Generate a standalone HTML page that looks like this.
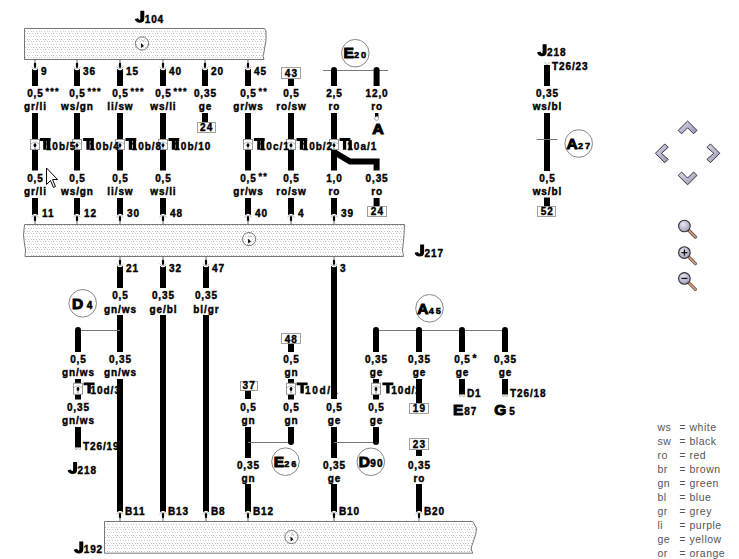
<!DOCTYPE html>
<html><head><meta charset="utf-8"><style>
html,body{margin:0;padding:0;background:#fff;width:739px;height:559px;overflow:hidden}
svg{display:block;font-family:"Liberation Sans",sans-serif}
</style></head><body>
<svg width="739" height="559" viewBox="0 0 739 559">
<defs>
<pattern id="dots" x="4" y="-1" width="8" height="16" patternUnits="userSpaceOnUse">
<rect x="0" y="0" width="1" height="1" fill="#c8c8c8"/><rect x="3" y="0" width="1" height="1" fill="#c8c8c8"/><rect x="5" y="0" width="1" height="1" fill="#c8c8c8"/>
<rect x="1" y="2" width="1" height="1" fill="#c8c8c8"/><rect x="4" y="2" width="1" height="1" fill="#c8c8c8"/><rect x="7" y="2" width="1" height="1" fill="#c8c8c8"/>
<rect x="0" y="5" width="1" height="1" fill="#c8c8c8"/><rect x="3" y="5" width="1" height="1" fill="#c8c8c8"/><rect x="5" y="5" width="1" height="1" fill="#c8c8c8"/>
<rect x="1" y="8" width="1" height="1" fill="#c8c8c8"/><rect x="4" y="8" width="1" height="1" fill="#c8c8c8"/><rect x="7" y="8" width="1" height="1" fill="#c8c8c8"/>
<rect x="0" y="10" width="1" height="1" fill="#c8c8c8"/><rect x="3" y="10" width="1" height="1" fill="#c8c8c8"/><rect x="5" y="10" width="1" height="1" fill="#c8c8c8"/>
<rect x="1" y="13" width="1" height="1" fill="#c8c8c8"/><rect x="4" y="13" width="1" height="1" fill="#c8c8c8"/><rect x="7" y="13" width="1" height="1" fill="#c8c8c8"/>
</pattern>
<linearGradient id="chev" x1="0" y1="0" x2="1" y2="1"><stop offset="0" stop-color="#d8d8ec"/><stop offset="1" stop-color="#9898b8"/></linearGradient>
<radialGradient id="lens" cx="0.4" cy="0.35" r="0.7"><stop offset="0" stop-color="#e8e8f4"/><stop offset="1" stop-color="#9a9ab8"/></radialGradient>
</defs>

<path d="M24.5,28.5 H264.5 L266,31 L266,40 L265,46 L264,52 L263,56 L264,59.5 H24.5 Z" fill="url(#dots)" stroke="#777" stroke-width="1"/>
<circle cx="142" cy="43.5" r="6.6" fill="none" stroke="#666" stroke-width="0.9"/>
<path d="M140.90,43.10 L143.90,45.80 L141.20,48.00 Z" fill="#000"/>
<path d="M141.40,40.30 L144.50,41.30" stroke="#999" stroke-width="0.7"/>
<path d="M140.30,10.80 L144.30,10.80 L144.30,18.80 Q144.30,22.80 139.70,22.80 Q135.90,22.80 134.70,19.10 L138.10,18.20 Q138.70,19.90 139.70,19.90 Q140.30,19.90 140.30,18.80 Z" fill="#000"/>
<text x="144.70" y="22.80" font-weight="bold" fill="#000" font-size="10" letter-spacing="0.9" stroke="#000" stroke-width="0.4">104</text>
<path d="M24.5,224.5 H404.5 L404,235 L403.5,241 L402.5,250 L403.5,256.5 H25 L25.5,250 L24.5,244 L23.5,235 Z" fill="url(#dots)" stroke="#777" stroke-width="1"/>
<circle cx="249.1" cy="239.1" r="6.6" fill="none" stroke="#666" stroke-width="0.9"/>
<path d="M248.00,238.70 L251.00,241.40 L248.30,243.60 Z" fill="#000"/>
<path d="M248.50,235.90 L251.60,236.90" stroke="#999" stroke-width="0.7"/>
<path d="M420.10,244.50 L424.10,244.50 L424.10,252.50 Q424.10,256.50 419.50,256.50 Q415.70,256.50 414.50,252.80 L417.90,251.90 Q418.50,253.60 419.50,253.60 Q420.10,253.60 420.10,252.50 Z" fill="#000"/>
<text x="424.50" y="256.50" font-weight="bold" fill="#000" font-size="10" letter-spacing="0.9" stroke="#000" stroke-width="0.4">217</text>
<path d="M104.5,521.5 H472.8 L476.4,528 L476,533 L473.6,541 L471.4,547 L471.4,550 L472.8,553.2 H104.5 Z" fill="url(#dots)" stroke="#777" stroke-width="1"/>
<circle cx="291.5" cy="537" r="6.6" fill="none" stroke="#666" stroke-width="0.9"/>
<path d="M290.40,536.60 L293.40,539.30 L290.70,541.50 Z" fill="#000"/>
<path d="M290.90,533.80 L294.00,534.80" stroke="#999" stroke-width="0.7"/>
<path d="M79.30,541.40 L83.30,541.40 L83.30,549.40 Q83.30,553.40 78.70,553.40 Q74.90,553.40 73.70,549.70 L77.10,548.80 Q77.70,550.50 78.70,550.50 Q79.30,550.50 79.30,549.40 Z" fill="#000"/>
<text x="83.70" y="553.40" font-weight="bold" fill="#000" font-size="10" letter-spacing="0.9" stroke="#000" stroke-width="0.4">192</text>
<line x1="35" y1="59.5" x2="35" y2="63.5" stroke="#666" stroke-width="1"/>
<rect x="33.90" y="62.70" width="2.2" height="5.2" rx="1.1" fill="#000"/>
<path d="M31.40,66.70 Q35.00,70.70 38.60,66.70" stroke="#aaa" stroke-width="0.8" fill="none"/>
<path d="M32.00,86.00 V68.70 Q35.00,71.90 38.00,68.70 V86.00 Z" fill="#000"/>
<text x="41.00" y="75.00" text-anchor="start" font-size="10" letter-spacing="0.9" font-weight="bold" fill="#000" stroke="#000" stroke-width="0.4" >9</text>
<text x="35.45" y="97.00" text-anchor="middle" font-size="10" letter-spacing="0.9" font-weight="bold" fill="#000" stroke="#000" stroke-width="0.4" >0,5</text>
<text x="45.50" y="94.00" text-anchor="start" font-size="9" letter-spacing="1.3" font-weight="bold" fill="#000" stroke="#000" stroke-width="0.4" >***</text>
<text x="35.45" y="110.00" text-anchor="middle" font-size="10" letter-spacing="0.9" font-weight="bold" fill="#000" stroke="#000" stroke-width="0.4" >gr/li</text>
<rect x="32.00" y="113.00" width="6" height="26.50" fill="#000"/>
<rect x="32.00" y="149.50" width="6" height="21.00" fill="#000"/>
<text x="35.45" y="182.00" text-anchor="middle" font-size="10" letter-spacing="0.9" font-weight="bold" fill="#000" stroke="#000" stroke-width="0.4" >0,5</text>
<text x="35.45" y="195.00" text-anchor="middle" font-size="10" letter-spacing="0.9" font-weight="bold" fill="#000" stroke="#000" stroke-width="0.4" >gr/li</text>
<path d="M32.00,198.00 V215.30 Q35.00,212.10 38.00,215.30 V198.00 Z" fill="#000"/>
<path d="M31.40,217.30 Q35.00,213.30 38.60,217.30" stroke="#aaa" stroke-width="0.8" fill="none"/>
<rect x="33.90" y="216.10" width="2.2" height="5.2" rx="1.1" fill="#000"/>
<line x1="35" y1="220.5" x2="35" y2="224.5" stroke="#666" stroke-width="1"/>
<text x="42.00" y="217.00" text-anchor="start" font-size="10" letter-spacing="0.9" font-weight="bold" fill="#000" stroke="#000" stroke-width="0.4" >11</text>
<line x1="77" y1="59.5" x2="77" y2="63.5" stroke="#666" stroke-width="1"/>
<rect x="75.90" y="62.70" width="2.2" height="5.2" rx="1.1" fill="#000"/>
<path d="M73.40,66.70 Q77.00,70.70 80.60,66.70" stroke="#aaa" stroke-width="0.8" fill="none"/>
<path d="M74.00,86.00 V68.70 Q77.00,71.90 80.00,68.70 V86.00 Z" fill="#000"/>
<text x="83.00" y="75.00" text-anchor="start" font-size="10" letter-spacing="0.9" font-weight="bold" fill="#000" stroke="#000" stroke-width="0.4" >36</text>
<text x="77.45" y="97.00" text-anchor="middle" font-size="10" letter-spacing="0.9" font-weight="bold" fill="#000" stroke="#000" stroke-width="0.4" >0,5</text>
<text x="87.50" y="94.00" text-anchor="start" font-size="9" letter-spacing="1.3" font-weight="bold" fill="#000" stroke="#000" stroke-width="0.4" >***</text>
<text x="77.45" y="110.00" text-anchor="middle" font-size="10" letter-spacing="0.9" font-weight="bold" fill="#000" stroke="#000" stroke-width="0.4" >ws/gn</text>
<rect x="74.00" y="113.00" width="6" height="26.50" fill="#000"/>
<rect x="74.00" y="149.50" width="6" height="21.00" fill="#000"/>
<text x="77.45" y="182.00" text-anchor="middle" font-size="10" letter-spacing="0.9" font-weight="bold" fill="#000" stroke="#000" stroke-width="0.4" >0,5</text>
<text x="77.45" y="195.00" text-anchor="middle" font-size="10" letter-spacing="0.9" font-weight="bold" fill="#000" stroke="#000" stroke-width="0.4" >ws/gn</text>
<path d="M74.00,198.00 V215.30 Q77.00,212.10 80.00,215.30 V198.00 Z" fill="#000"/>
<path d="M73.40,217.30 Q77.00,213.30 80.60,217.30" stroke="#aaa" stroke-width="0.8" fill="none"/>
<rect x="75.90" y="216.10" width="2.2" height="5.2" rx="1.1" fill="#000"/>
<line x1="77" y1="220.5" x2="77" y2="224.5" stroke="#666" stroke-width="1"/>
<text x="84.00" y="217.00" text-anchor="start" font-size="10" letter-spacing="0.9" font-weight="bold" fill="#000" stroke="#000" stroke-width="0.4" >12</text>
<line x1="120" y1="59.5" x2="120" y2="63.5" stroke="#666" stroke-width="1"/>
<rect x="118.90" y="62.70" width="2.2" height="5.2" rx="1.1" fill="#000"/>
<path d="M116.40,66.70 Q120.00,70.70 123.60,66.70" stroke="#aaa" stroke-width="0.8" fill="none"/>
<path d="M117.00,86.00 V68.70 Q120.00,71.90 123.00,68.70 V86.00 Z" fill="#000"/>
<text x="126.00" y="75.00" text-anchor="start" font-size="10" letter-spacing="0.9" font-weight="bold" fill="#000" stroke="#000" stroke-width="0.4" >15</text>
<text x="120.45" y="97.00" text-anchor="middle" font-size="10" letter-spacing="0.9" font-weight="bold" fill="#000" stroke="#000" stroke-width="0.4" >0,5</text>
<text x="130.50" y="94.00" text-anchor="start" font-size="9" letter-spacing="1.3" font-weight="bold" fill="#000" stroke="#000" stroke-width="0.4" >***</text>
<text x="120.45" y="110.00" text-anchor="middle" font-size="10" letter-spacing="0.9" font-weight="bold" fill="#000" stroke="#000" stroke-width="0.4" >li/sw</text>
<rect x="117.00" y="113.00" width="6" height="26.50" fill="#000"/>
<rect x="117.00" y="149.50" width="6" height="21.00" fill="#000"/>
<text x="120.45" y="182.00" text-anchor="middle" font-size="10" letter-spacing="0.9" font-weight="bold" fill="#000" stroke="#000" stroke-width="0.4" >0,5</text>
<text x="120.45" y="195.00" text-anchor="middle" font-size="10" letter-spacing="0.9" font-weight="bold" fill="#000" stroke="#000" stroke-width="0.4" >li/sw</text>
<path d="M117.00,198.00 V215.30 Q120.00,212.10 123.00,215.30 V198.00 Z" fill="#000"/>
<path d="M116.40,217.30 Q120.00,213.30 123.60,217.30" stroke="#aaa" stroke-width="0.8" fill="none"/>
<rect x="118.90" y="216.10" width="2.2" height="5.2" rx="1.1" fill="#000"/>
<line x1="120" y1="220.5" x2="120" y2="224.5" stroke="#666" stroke-width="1"/>
<text x="127.00" y="217.00" text-anchor="start" font-size="10" letter-spacing="0.9" font-weight="bold" fill="#000" stroke="#000" stroke-width="0.4" >30</text>
<line x1="163" y1="59.5" x2="163" y2="63.5" stroke="#666" stroke-width="1"/>
<rect x="161.90" y="62.70" width="2.2" height="5.2" rx="1.1" fill="#000"/>
<path d="M159.40,66.70 Q163.00,70.70 166.60,66.70" stroke="#aaa" stroke-width="0.8" fill="none"/>
<path d="M160.00,86.00 V68.70 Q163.00,71.90 166.00,68.70 V86.00 Z" fill="#000"/>
<text x="169.00" y="75.00" text-anchor="start" font-size="10" letter-spacing="0.9" font-weight="bold" fill="#000" stroke="#000" stroke-width="0.4" >40</text>
<text x="163.45" y="97.00" text-anchor="middle" font-size="10" letter-spacing="0.9" font-weight="bold" fill="#000" stroke="#000" stroke-width="0.4" >0,5</text>
<text x="173.50" y="94.00" text-anchor="start" font-size="9" letter-spacing="1.3" font-weight="bold" fill="#000" stroke="#000" stroke-width="0.4" >***</text>
<text x="163.45" y="110.00" text-anchor="middle" font-size="10" letter-spacing="0.9" font-weight="bold" fill="#000" stroke="#000" stroke-width="0.4" >ws/li</text>
<rect x="160.00" y="113.00" width="6" height="26.50" fill="#000"/>
<rect x="160.00" y="149.50" width="6" height="21.00" fill="#000"/>
<text x="163.45" y="182.00" text-anchor="middle" font-size="10" letter-spacing="0.9" font-weight="bold" fill="#000" stroke="#000" stroke-width="0.4" >0,5</text>
<text x="163.45" y="195.00" text-anchor="middle" font-size="10" letter-spacing="0.9" font-weight="bold" fill="#000" stroke="#000" stroke-width="0.4" >ws/li</text>
<path d="M160.00,198.00 V215.30 Q163.00,212.10 166.00,215.30 V198.00 Z" fill="#000"/>
<path d="M159.40,217.30 Q163.00,213.30 166.60,217.30" stroke="#aaa" stroke-width="0.8" fill="none"/>
<rect x="161.90" y="216.10" width="2.2" height="5.2" rx="1.1" fill="#000"/>
<line x1="163" y1="220.5" x2="163" y2="224.5" stroke="#666" stroke-width="1"/>
<text x="170.00" y="217.00" text-anchor="start" font-size="10" letter-spacing="0.9" font-weight="bold" fill="#000" stroke="#000" stroke-width="0.4" >48</text>
<line x1="205" y1="59.5" x2="205" y2="63.5" stroke="#666" stroke-width="1"/>
<rect x="203.90" y="62.70" width="2.2" height="5.2" rx="1.1" fill="#000"/>
<path d="M201.40,66.70 Q205.00,70.70 208.60,66.70" stroke="#aaa" stroke-width="0.8" fill="none"/>
<path d="M202.00,86.00 V68.70 Q205.00,71.90 208.00,68.70 V86.00 Z" fill="#000"/>
<text x="211.00" y="75.00" text-anchor="start" font-size="10" letter-spacing="0.9" font-weight="bold" fill="#000" stroke="#000" stroke-width="0.4" >20</text>
<text x="205.45" y="97.00" text-anchor="middle" font-size="10" letter-spacing="0.9" font-weight="bold" fill="#000" stroke="#000" stroke-width="0.4" >0,35</text>
<text x="205.45" y="110.00" text-anchor="middle" font-size="10" letter-spacing="0.9" font-weight="bold" fill="#000" stroke="#000" stroke-width="0.4" >ge</text>
<rect x="202.00" y="113.00" width="6" height="9.00" fill="#000"/>
<line x1="248" y1="59.5" x2="248" y2="63.5" stroke="#666" stroke-width="1"/>
<rect x="246.90" y="62.70" width="2.2" height="5.2" rx="1.1" fill="#000"/>
<path d="M244.40,66.70 Q248.00,70.70 251.60,66.70" stroke="#aaa" stroke-width="0.8" fill="none"/>
<path d="M245.00,86.00 V68.70 Q248.00,71.90 251.00,68.70 V86.00 Z" fill="#000"/>
<text x="254.00" y="75.00" text-anchor="start" font-size="10" letter-spacing="0.9" font-weight="bold" fill="#000" stroke="#000" stroke-width="0.4" >45</text>
<text x="248.45" y="97.00" text-anchor="middle" font-size="10" letter-spacing="0.9" font-weight="bold" fill="#000" stroke="#000" stroke-width="0.4" >0,5</text>
<text x="258.50" y="94.00" text-anchor="start" font-size="9" letter-spacing="1.3" font-weight="bold" fill="#000" stroke="#000" stroke-width="0.4" >**</text>
<text x="248.45" y="110.00" text-anchor="middle" font-size="10" letter-spacing="0.9" font-weight="bold" fill="#000" stroke="#000" stroke-width="0.4" >gr/ws</text>
<rect x="245.00" y="113.00" width="6" height="26.50" fill="#000"/>
<rect x="245.00" y="149.50" width="6" height="21.00" fill="#000"/>
<text x="248.45" y="182.00" text-anchor="middle" font-size="10" letter-spacing="0.9" font-weight="bold" fill="#000" stroke="#000" stroke-width="0.4" >0,5</text>
<text x="258.50" y="179.00" text-anchor="start" font-size="9" letter-spacing="1.3" font-weight="bold" fill="#000" stroke="#000" stroke-width="0.4" >**</text>
<text x="248.45" y="195.00" text-anchor="middle" font-size="10" letter-spacing="0.9" font-weight="bold" fill="#000" stroke="#000" stroke-width="0.4" >gr/ws</text>
<path d="M245.00,198.00 V215.30 Q248.00,212.10 251.00,215.30 V198.00 Z" fill="#000"/>
<path d="M244.40,217.30 Q248.00,213.30 251.60,217.30" stroke="#aaa" stroke-width="0.8" fill="none"/>
<rect x="246.90" y="216.10" width="2.2" height="5.2" rx="1.1" fill="#000"/>
<line x1="248" y1="220.5" x2="248" y2="224.5" stroke="#666" stroke-width="1"/>
<text x="255.00" y="217.00" text-anchor="start" font-size="10" letter-spacing="0.9" font-weight="bold" fill="#000" stroke="#000" stroke-width="0.4" >40</text>
<rect x="288.00" y="78.00" width="6" height="8.00" fill="#000"/>
<text x="291.45" y="97.00" text-anchor="middle" font-size="10" letter-spacing="0.9" font-weight="bold" fill="#000" stroke="#000" stroke-width="0.4" >0,5</text>
<text x="291.45" y="110.00" text-anchor="middle" font-size="10" letter-spacing="0.9" font-weight="bold" fill="#000" stroke="#000" stroke-width="0.4" >ro/sw</text>
<rect x="288.00" y="113.00" width="6" height="26.50" fill="#000"/>
<rect x="288.00" y="149.50" width="6" height="21.00" fill="#000"/>
<text x="291.45" y="182.00" text-anchor="middle" font-size="10" letter-spacing="0.9" font-weight="bold" fill="#000" stroke="#000" stroke-width="0.4" >0,5</text>
<text x="291.45" y="195.00" text-anchor="middle" font-size="10" letter-spacing="0.9" font-weight="bold" fill="#000" stroke="#000" stroke-width="0.4" >ro/sw</text>
<path d="M288.00,198.00 V215.30 Q291.00,212.10 294.00,215.30 V198.00 Z" fill="#000"/>
<path d="M287.40,217.30 Q291.00,213.30 294.60,217.30" stroke="#aaa" stroke-width="0.8" fill="none"/>
<rect x="289.90" y="216.10" width="2.2" height="5.2" rx="1.1" fill="#000"/>
<line x1="291" y1="220.5" x2="291" y2="224.5" stroke="#666" stroke-width="1"/>
<text x="298.00" y="217.00" text-anchor="start" font-size="10" letter-spacing="0.9" font-weight="bold" fill="#000" stroke="#000" stroke-width="0.4" >4</text>
<line x1="323" y1="70.5" x2="388" y2="70.5" stroke="#777" stroke-width="1"/>
<circle cx="355.30" cy="53.20" r="13.8" fill="#fff" stroke="#888" stroke-width="1"/>
<text x="355.80" y="58.40" text-anchor="middle" font-weight="bold" fill="#000" stroke="#000"><tspan font-size="15.5" stroke-width="1.0">E</tspan><tspan font-size="9.2" dx="0.3" letter-spacing="1.9" stroke-width="0.5">20</tspan></text>
<path d="M331.00,86.00 V70.00 A3.0,3.0 0 0 1 337.00,70.00 V86.00 Z" fill="#000"/>
<path d="M373.60,86.00 V70.00 A3.0,3.0 0 0 1 379.60,70.00 V86.00 Z" fill="#000"/>
<text x="334.45" y="97.00" text-anchor="middle" font-size="10" letter-spacing="0.9" font-weight="bold" fill="#000" stroke="#000" stroke-width="0.4" >2,5</text>
<text x="377.05" y="97.00" text-anchor="middle" font-size="10" letter-spacing="0.9" font-weight="bold" fill="#000" stroke="#000" stroke-width="0.4" >12,0</text>
<text x="334.45" y="110.00" text-anchor="middle" font-size="10" letter-spacing="0.9" font-weight="bold" fill="#000" stroke="#000" stroke-width="0.4" >ro</text>
<text x="377.05" y="110.00" text-anchor="middle" font-size="10" letter-spacing="0.9" font-weight="bold" fill="#000" stroke="#000" stroke-width="0.4" >ro</text>
<rect x="331.00" y="113.00" width="6" height="26.50" fill="#000"/>
<rect x="331.00" y="149.50" width="6" height="21.00" fill="#000"/>
<path d="M334,152 L350,161.5 L376.6,161.5 L376.6,170.5" stroke="#000" stroke-width="6" fill="none" stroke-linejoin="miter"/>
<rect x="375" y="113" width="3.4" height="5" fill="#000"/>
<circle cx="376.7" cy="118.5" r="2" fill="#fff" stroke="#999" stroke-width="0.8"/>
<text x="378" y="133.7" text-anchor="middle" font-size="14.5" font-weight="bold" stroke="#000" stroke-width="1.1" transform="translate(378 0) scale(1.1 1) translate(-378 0)">A</text>
<text x="334.45" y="182.00" text-anchor="middle" font-size="10" letter-spacing="0.9" font-weight="bold" fill="#000" stroke="#000" stroke-width="0.4" >1,0</text>
<text x="377.05" y="182.00" text-anchor="middle" font-size="10" letter-spacing="0.9" font-weight="bold" fill="#000" stroke="#000" stroke-width="0.4" >0,35</text>
<text x="334.45" y="195.00" text-anchor="middle" font-size="10" letter-spacing="0.9" font-weight="bold" fill="#000" stroke="#000" stroke-width="0.4" >ro</text>
<text x="377.05" y="195.00" text-anchor="middle" font-size="10" letter-spacing="0.9" font-weight="bold" fill="#000" stroke="#000" stroke-width="0.4" >ro</text>
<path d="M331.00,198.00 V215.30 Q334.00,212.10 337.00,215.30 V198.00 Z" fill="#000"/>
<path d="M330.40,217.30 Q334.00,213.30 337.60,217.30" stroke="#aaa" stroke-width="0.8" fill="none"/>
<rect x="332.90" y="216.10" width="2.2" height="5.2" rx="1.1" fill="#000"/>
<line x1="334" y1="220.5" x2="334" y2="224.5" stroke="#666" stroke-width="1"/>
<text x="341.00" y="217.00" text-anchor="start" font-size="10" letter-spacing="0.9" font-weight="bold" fill="#000" stroke="#000" stroke-width="0.4" >39</text>
<rect x="373.60" y="198.00" width="6" height="8.50" fill="#000"/>
<rect x="30.50" y="139.50" width="9" height="10" fill="#fff" stroke="#999" stroke-width="1"/>
<path d="M31.00,144.00 Q35.00,140.00 39.00,144.00" stroke="#aaa" stroke-width="0.8" fill="none"/>
<ellipse cx="35.00" cy="145.30" rx="1.4" ry="2" fill="#000"/>
<line x1="35" y1="146.5" x2="35" y2="149.5" stroke="#555" stroke-width="0.8"/>
<path d="M39.90,138.00 H50.70 V140.90 H46.50 V149.70 H43.20 V140.90 H39.90 Z" fill="#000"/>
<rect x="47.00" y="140.10" width="3.3" height="9.60" fill="#000"/>
<rect x="72.50" y="139.50" width="9" height="10" fill="#fff" stroke="#999" stroke-width="1"/>
<path d="M73.00,144.00 Q77.00,140.00 81.00,144.00" stroke="#aaa" stroke-width="0.8" fill="none"/>
<ellipse cx="77.00" cy="145.30" rx="1.4" ry="2" fill="#000"/>
<line x1="77" y1="146.5" x2="77" y2="149.5" stroke="#555" stroke-width="0.8"/>
<path d="M83.10,138.00 H93.90 V140.90 H89.70 V149.70 H86.40 V140.90 H83.10 Z" fill="#000"/>
<rect x="90.50" y="140.10" width="3.3" height="9.60" fill="#000"/>
<rect x="115.50" y="139.50" width="9" height="10" fill="#fff" stroke="#999" stroke-width="1"/>
<path d="M116.00,144.00 Q120.00,140.00 124.00,144.00" stroke="#aaa" stroke-width="0.8" fill="none"/>
<ellipse cx="120.00" cy="145.30" rx="1.4" ry="2" fill="#000"/>
<line x1="120" y1="146.5" x2="120" y2="149.5" stroke="#555" stroke-width="0.8"/>
<path d="M125.50,138.00 H136.30 V140.90 H132.10 V149.70 H128.80 V140.90 H125.50 Z" fill="#000"/>
<rect x="132.80" y="140.10" width="3.3" height="9.60" fill="#000"/>
<rect x="158.50" y="139.50" width="9" height="10" fill="#fff" stroke="#999" stroke-width="1"/>
<path d="M159.00,144.00 Q163.00,140.00 167.00,144.00" stroke="#aaa" stroke-width="0.8" fill="none"/>
<ellipse cx="163.00" cy="145.30" rx="1.4" ry="2" fill="#000"/>
<line x1="163" y1="146.5" x2="163" y2="149.5" stroke="#555" stroke-width="0.8"/>
<path d="M168.50,138.00 H179.30 V140.90 H175.10 V149.70 H171.80 V140.90 H168.50 Z" fill="#000"/>
<rect x="175.50" y="140.10" width="3.3" height="9.60" fill="#000"/>
<rect x="243.50" y="139.50" width="9" height="10" fill="#fff" stroke="#999" stroke-width="1"/>
<path d="M244.00,144.00 Q248.00,140.00 252.00,144.00" stroke="#aaa" stroke-width="0.8" fill="none"/>
<ellipse cx="248.00" cy="145.30" rx="1.4" ry="2" fill="#000"/>
<line x1="248" y1="146.5" x2="248" y2="149.5" stroke="#555" stroke-width="0.8"/>
<path d="M253.90,138.00 H264.70 V140.90 H260.50 V149.70 H257.20 V140.90 H253.90 Z" fill="#000"/>
<rect x="261.00" y="140.10" width="3.3" height="9.60" fill="#000"/>
<rect x="286.50" y="139.50" width="9" height="10" fill="#fff" stroke="#999" stroke-width="1"/>
<path d="M287.00,144.00 Q291.00,140.00 295.00,144.00" stroke="#aaa" stroke-width="0.8" fill="none"/>
<ellipse cx="291.00" cy="145.30" rx="1.4" ry="2" fill="#000"/>
<line x1="291" y1="146.5" x2="291" y2="149.5" stroke="#555" stroke-width="0.8"/>
<path d="M296.50,138.00 H307.30 V140.90 H303.10 V149.70 H299.80 V140.90 H296.50 Z" fill="#000"/>
<rect x="303.80" y="140.10" width="3.3" height="9.60" fill="#000"/>
<rect x="329.50" y="139.50" width="9" height="10" fill="#fff" stroke="#999" stroke-width="1"/>
<path d="M330.00,144.00 Q334.00,140.00 338.00,144.00" stroke="#aaa" stroke-width="0.8" fill="none"/>
<ellipse cx="334.00" cy="145.30" rx="1.4" ry="2" fill="#000"/>
<line x1="334" y1="146.5" x2="334" y2="149.5" stroke="#555" stroke-width="0.8"/>
<path d="M339.60,138.00 H350.40 V140.90 H346.20 V149.70 H342.90 V140.90 H339.60 Z" fill="#000"/>
<rect x="348.50" y="140.10" width="3.3" height="9.60" fill="#000"/>
<path d="M542.60,44.20 L546.60,44.20 L546.60,52.20 Q546.60,56.20 542.00,56.20 Q538.20,56.20 537.00,52.50 L540.40,51.60 Q541.00,53.30 542.00,53.30 Q542.60,53.30 542.60,52.20 Z" fill="#000"/>
<text x="547.00" y="56.20" font-weight="bold" fill="#000" font-size="10" letter-spacing="0.9" stroke="#000" stroke-width="0.4">218</text>
<path d="M544.5,62 L547,65 L549.5,62" stroke="#aaa" stroke-width="0.8" fill="none"/>
<rect x="544.00" y="65.00" width="6" height="21.00" fill="#000"/>
<text x="552.00" y="70.00" text-anchor="start" font-size="10" letter-spacing="0.9" font-weight="bold" fill="#000" stroke="#000" stroke-width="0.4" >T26/23</text>
<text x="547.45" y="97.00" text-anchor="middle" font-size="10" letter-spacing="0.9" font-weight="bold" fill="#000" stroke="#000" stroke-width="0.4" >0,35</text>
<text x="547.45" y="110.00" text-anchor="middle" font-size="10" letter-spacing="0.9" font-weight="bold" fill="#000" stroke="#000" stroke-width="0.4" >ws/bl</text>
<rect x="544.00" y="113.00" width="6" height="58.00" fill="#000"/>
<line x1="536.7" y1="139.5" x2="557.4" y2="139.5" stroke="#777" stroke-width="1"/>
<circle cx="578.70" cy="143.50" r="13.8" fill="#fff" stroke="#888" stroke-width="1"/>
<text x="579.20" y="148.70" text-anchor="middle" font-weight="bold" fill="#000" stroke="#000"><tspan font-size="15.5" stroke-width="1.0">A</tspan><tspan font-size="9.2" dx="0.3" letter-spacing="1.9" stroke-width="0.5">27</tspan></text>
<text x="547.45" y="182.00" text-anchor="middle" font-size="10" letter-spacing="0.9" font-weight="bold" fill="#000" stroke="#000" stroke-width="0.4" >0,5</text>
<text x="547.45" y="195.00" text-anchor="middle" font-size="10" letter-spacing="0.9" font-weight="bold" fill="#000" stroke="#000" stroke-width="0.4" >ws/bl</text>
<rect x="544.00" y="197.50" width="6" height="9.00" fill="#000"/>
<line x1="120" y1="256.5" x2="120" y2="260.5" stroke="#666" stroke-width="1"/>
<rect x="118.90" y="259.70" width="2.2" height="5.2" rx="1.1" fill="#000"/>
<path d="M116.40,263.70 Q120.00,267.70 123.60,263.70" stroke="#aaa" stroke-width="0.8" fill="none"/>
<path d="M117.00,288.00 V265.70 Q120.00,268.90 123.00,265.70 V288.00 Z" fill="#000"/>
<text x="126.00" y="272.00" text-anchor="start" font-size="10" letter-spacing="0.9" font-weight="bold" fill="#000" stroke="#000" stroke-width="0.4" >21</text>
<line x1="163" y1="256.5" x2="163" y2="260.5" stroke="#666" stroke-width="1"/>
<rect x="161.90" y="259.70" width="2.2" height="5.2" rx="1.1" fill="#000"/>
<path d="M159.40,263.70 Q163.00,267.70 166.60,263.70" stroke="#aaa" stroke-width="0.8" fill="none"/>
<path d="M160.00,288.00 V265.70 Q163.00,268.90 166.00,265.70 V288.00 Z" fill="#000"/>
<text x="169.00" y="272.00" text-anchor="start" font-size="10" letter-spacing="0.9" font-weight="bold" fill="#000" stroke="#000" stroke-width="0.4" >32</text>
<line x1="206" y1="256.5" x2="206" y2="260.5" stroke="#666" stroke-width="1"/>
<rect x="204.90" y="259.70" width="2.2" height="5.2" rx="1.1" fill="#000"/>
<path d="M202.40,263.70 Q206.00,267.70 209.60,263.70" stroke="#aaa" stroke-width="0.8" fill="none"/>
<path d="M203.00,288.00 V265.70 Q206.00,268.90 209.00,265.70 V288.00 Z" fill="#000"/>
<text x="212.00" y="272.00" text-anchor="start" font-size="10" letter-spacing="0.9" font-weight="bold" fill="#000" stroke="#000" stroke-width="0.4" >47</text>
<line x1="334" y1="256.5" x2="334" y2="260.5" stroke="#666" stroke-width="1"/>
<rect x="332.90" y="259.70" width="2.2" height="5.2" rx="1.1" fill="#000"/>
<path d="M330.40,263.70 Q334.00,267.70 337.60,263.70" stroke="#aaa" stroke-width="0.8" fill="none"/>
<path d="M331.00,399.00 V265.70 Q334.00,268.90 337.00,265.70 V399.00 Z" fill="#000"/>
<text x="340.00" y="272.00" text-anchor="start" font-size="10" letter-spacing="0.9" font-weight="bold" fill="#000" stroke="#000" stroke-width="0.4" >3</text>
<text x="120.45" y="299.00" text-anchor="middle" font-size="10" letter-spacing="0.9" font-weight="bold" fill="#000" stroke="#000" stroke-width="0.4" >0,5</text>
<text x="120.45" y="312.50" text-anchor="middle" font-size="10" letter-spacing="0.9" font-weight="bold" fill="#000" stroke="#000" stroke-width="0.4" >gn/ws</text>
<text x="163.45" y="299.00" text-anchor="middle" font-size="10" letter-spacing="0.9" font-weight="bold" fill="#000" stroke="#000" stroke-width="0.4" >0,35</text>
<text x="163.45" y="312.50" text-anchor="middle" font-size="10" letter-spacing="0.9" font-weight="bold" fill="#000" stroke="#000" stroke-width="0.4" >ge/bl</text>
<text x="206.45" y="299.00" text-anchor="middle" font-size="10" letter-spacing="0.9" font-weight="bold" fill="#000" stroke="#000" stroke-width="0.4" >0,35</text>
<text x="206.45" y="312.50" text-anchor="middle" font-size="10" letter-spacing="0.9" font-weight="bold" fill="#000" stroke="#000" stroke-width="0.4" >bl/gr</text>
<circle cx="82.70" cy="303.30" r="13.8" fill="#fff" stroke="#888" stroke-width="1"/>
<text x="83.20" y="308.50" text-anchor="middle" font-weight="bold" fill="#000" stroke="#000"><tspan font-size="15.5" stroke-width="1.0">D</tspan><tspan font-size="10" dx="3.5" letter-spacing="1.9" stroke-width="0.5">4</tspan></text>
<rect x="117.00" y="315.00" width="6" height="37.00" fill="#000"/>
<rect x="160.00" y="315.00" width="6" height="196.00" fill="#000"/>
<rect x="203.00" y="315.00" width="6" height="196.00" fill="#000"/>
<line x1="78" y1="330.5" x2="120" y2="330.5" stroke="#777" stroke-width="1"/>
<path d="M75.00,352.00 V330.00 A3.0,3.0 0 0 1 81.00,330.00 V352.00 Z" fill="#000"/>
<text x="78.45" y="363.00" text-anchor="middle" font-size="10" letter-spacing="0.9" font-weight="bold" fill="#000" stroke="#000" stroke-width="0.4" >0,5</text>
<text x="78.45" y="376.00" text-anchor="middle" font-size="10" letter-spacing="0.9" font-weight="bold" fill="#000" stroke="#000" stroke-width="0.4" >gn/ws</text>
<text x="120.45" y="363.00" text-anchor="middle" font-size="10" letter-spacing="0.9" font-weight="bold" fill="#000" stroke="#000" stroke-width="0.4" >0,35</text>
<text x="120.45" y="376.00" text-anchor="middle" font-size="10" letter-spacing="0.9" font-weight="bold" fill="#000" stroke="#000" stroke-width="0.4" >gn/ws</text>
<rect x="117.00" y="379.00" width="6" height="132.00" fill="#000"/>
<rect x="75.00" y="379.00" width="6" height="5.00" fill="#000"/>
<rect x="75.00" y="394.00" width="6" height="5.50" fill="#000"/>
<rect x="73.50" y="383.30" width="9" height="11" fill="#fff" stroke="#999" stroke-width="1"/>
<path d="M74.00,387.80 Q78.00,383.80 82.00,387.80" stroke="#aaa" stroke-width="0.8" fill="none"/>
<ellipse cx="78.00" cy="389.10" rx="1.4" ry="2" fill="#000"/>
<line x1="78" y1="390.3" x2="78" y2="393.3" stroke="#555" stroke-width="0.8"/>
<path d="M83.60,382.50 H94.60 V385.20 H90.80 V393.40 H87.40 V385.20 H83.60 Z" fill="#000"/>
<text x="78.45" y="411.00" text-anchor="middle" font-size="10" letter-spacing="0.9" font-weight="bold" fill="#000" stroke="#000" stroke-width="0.4" >0,35</text>
<text x="78.45" y="424.00" text-anchor="middle" font-size="10" letter-spacing="0.9" font-weight="bold" fill="#000" stroke="#000" stroke-width="0.4" >gn/ws</text>
<rect x="75.00" y="427.00" width="6" height="20.50" fill="#000"/>
<path d="M75.00,447.50 L76.00,450.00 L78.00,448.30 L80.00,450.00 L81.00,447.50" stroke="#aaa" stroke-width="0.8" fill="none"/>
<text x="83.00" y="450.00" text-anchor="start" font-size="10" letter-spacing="0.9" font-weight="bold" fill="#000" stroke="#000" stroke-width="0.4" >T26/19</text>
<path d="M73.10,462.00 L77.10,462.00 L77.10,470.00 Q77.10,474.00 72.50,474.00 Q68.70,474.00 67.50,470.30 L70.90,469.40 Q71.50,471.10 72.50,471.10 Q73.10,471.10 73.10,470.00 Z" fill="#000"/>
<text x="77.50" y="474.00" font-weight="bold" fill="#000" font-size="10" letter-spacing="0.9" stroke="#000" stroke-width="0.4">218</text>
<rect x="245.00" y="391.00" width="6" height="8.00" fill="#000"/>
<text x="248.45" y="411.00" text-anchor="middle" font-size="10" letter-spacing="0.9" font-weight="bold" fill="#000" stroke="#000" stroke-width="0.4" >0,5</text>
<text x="248.45" y="424.00" text-anchor="middle" font-size="10" letter-spacing="0.9" font-weight="bold" fill="#000" stroke="#000" stroke-width="0.4" >gn</text>
<rect x="245.00" y="427.00" width="6" height="31.00" fill="#000"/>
<line x1="248" y1="442.5" x2="291" y2="442.5" stroke="#777" stroke-width="1"/>
<text x="248.45" y="469.00" text-anchor="middle" font-size="10" letter-spacing="0.9" font-weight="bold" fill="#000" stroke="#000" stroke-width="0.4" >0,35</text>
<text x="248.45" y="482.00" text-anchor="middle" font-size="10" letter-spacing="0.9" font-weight="bold" fill="#000" stroke="#000" stroke-width="0.4" >gn</text>
<rect x="288.00" y="343.00" width="6" height="9.00" fill="#000"/>
<text x="291.45" y="363.00" text-anchor="middle" font-size="10" letter-spacing="0.9" font-weight="bold" fill="#000" stroke="#000" stroke-width="0.4" >0,5</text>
<text x="291.45" y="376.00" text-anchor="middle" font-size="10" letter-spacing="0.9" font-weight="bold" fill="#000" stroke="#000" stroke-width="0.4" >gn</text>
<rect x="288.00" y="379.00" width="6" height="5.00" fill="#000"/>
<rect x="288.00" y="394.00" width="6" height="5.50" fill="#000"/>
<rect x="286.50" y="383.30" width="9" height="11" fill="#fff" stroke="#999" stroke-width="1"/>
<path d="M287.00,387.80 Q291.00,383.80 295.00,387.80" stroke="#aaa" stroke-width="0.8" fill="none"/>
<ellipse cx="291.00" cy="389.10" rx="1.4" ry="2" fill="#000"/>
<line x1="291" y1="390.3" x2="291" y2="393.3" stroke="#555" stroke-width="0.8"/>
<path d="M296.60,382.50 H307.60 V385.20 H303.80 V393.40 H300.40 V385.20 H296.60 Z" fill="#000"/>
<text x="291.45" y="411.00" text-anchor="middle" font-size="10" letter-spacing="0.9" font-weight="bold" fill="#000" stroke="#000" stroke-width="0.4" >0,5</text>
<text x="291.45" y="424.00" text-anchor="middle" font-size="10" letter-spacing="0.9" font-weight="bold" fill="#000" stroke="#000" stroke-width="0.4" >gn</text>
<path d="M288.00,427.00 V442.00 A3.0,3.0 0 0 0 294.00,442.00 V427.00 Z" fill="#000"/>
<circle cx="285.50" cy="461.70" r="13.8" fill="#fff" stroke="#888" stroke-width="1"/>
<text x="286.00" y="466.90" text-anchor="middle" font-weight="bold" fill="#000" stroke="#000"><tspan font-size="15.5" stroke-width="1.0">E</tspan><tspan font-size="9.2" dx="0.3" letter-spacing="1.9" stroke-width="0.5">26</tspan></text>
<text x="334.45" y="411.00" text-anchor="middle" font-size="10" letter-spacing="0.9" font-weight="bold" fill="#000" stroke="#000" stroke-width="0.4" >0,5</text>
<text x="334.45" y="424.00" text-anchor="middle" font-size="10" letter-spacing="0.9" font-weight="bold" fill="#000" stroke="#000" stroke-width="0.4" >ge</text>
<rect x="331.00" y="427.00" width="6" height="31.00" fill="#000"/>
<line x1="334" y1="442.5" x2="376" y2="442.5" stroke="#777" stroke-width="1"/>
<text x="334.45" y="469.00" text-anchor="middle" font-size="10" letter-spacing="0.9" font-weight="bold" fill="#000" stroke="#000" stroke-width="0.4" >0,35</text>
<text x="334.45" y="482.00" text-anchor="middle" font-size="10" letter-spacing="0.9" font-weight="bold" fill="#000" stroke="#000" stroke-width="0.4" >ge</text>
<line x1="376" y1="330.5" x2="505" y2="330.5" stroke="#777" stroke-width="1"/>
<circle cx="429.50" cy="308.30" r="13.8" fill="#fff" stroke="#888" stroke-width="1"/>
<text x="430.00" y="313.50" text-anchor="middle" font-weight="bold" fill="#000" stroke="#000"><tspan font-size="15.5" stroke-width="1.0">A</tspan><tspan font-size="9.2" dx="0.3" letter-spacing="1.9" stroke-width="0.5">45</tspan></text>
<path d="M373.00,352.00 V330.00 A3.0,3.0 0 0 1 379.00,330.00 V352.00 Z" fill="#000"/>
<text x="376.45" y="363.00" text-anchor="middle" font-size="10" letter-spacing="0.9" font-weight="bold" fill="#000" stroke="#000" stroke-width="0.4" >0,35</text>
<text x="376.45" y="376.00" text-anchor="middle" font-size="10" letter-spacing="0.9" font-weight="bold" fill="#000" stroke="#000" stroke-width="0.4" >ge</text>
<path d="M416.00,352.00 V330.00 A3.0,3.0 0 0 1 422.00,330.00 V352.00 Z" fill="#000"/>
<text x="419.45" y="363.00" text-anchor="middle" font-size="10" letter-spacing="0.9" font-weight="bold" fill="#000" stroke="#000" stroke-width="0.4" >0,35</text>
<text x="419.45" y="376.00" text-anchor="middle" font-size="10" letter-spacing="0.9" font-weight="bold" fill="#000" stroke="#000" stroke-width="0.4" >ge</text>
<path d="M459.00,352.00 V330.00 A3.0,3.0 0 0 1 465.00,330.00 V352.00 Z" fill="#000"/>
<text x="462.45" y="363.00" text-anchor="middle" font-size="10" letter-spacing="0.9" font-weight="bold" fill="#000" stroke="#000" stroke-width="0.4" >0,5</text>
<text x="462.45" y="376.00" text-anchor="middle" font-size="10" letter-spacing="0.9" font-weight="bold" fill="#000" stroke="#000" stroke-width="0.4" >ge</text>
<path d="M502.00,352.00 V330.00 A3.0,3.0 0 0 1 508.00,330.00 V352.00 Z" fill="#000"/>
<text x="505.45" y="363.00" text-anchor="middle" font-size="10" letter-spacing="0.9" font-weight="bold" fill="#000" stroke="#000" stroke-width="0.4" >0,35</text>
<text x="505.45" y="376.00" text-anchor="middle" font-size="10" letter-spacing="0.9" font-weight="bold" fill="#000" stroke="#000" stroke-width="0.4" >ge</text>
<text x="472.50" y="362.00" text-anchor="start" font-size="10" letter-spacing="0" font-weight="bold" fill="#000" stroke="#000" stroke-width="0.4" >*</text>
<rect x="373.00" y="379.00" width="6" height="5.00" fill="#000"/>
<rect x="373.00" y="394.00" width="6" height="5.50" fill="#000"/>
<rect x="371.50" y="383.30" width="9" height="11" fill="#fff" stroke="#999" stroke-width="1"/>
<path d="M372.00,387.80 Q376.00,383.80 380.00,387.80" stroke="#aaa" stroke-width="0.8" fill="none"/>
<ellipse cx="376.00" cy="389.10" rx="1.4" ry="2" fill="#000"/>
<line x1="376" y1="390.3" x2="376" y2="393.3" stroke="#555" stroke-width="0.8"/>
<path d="M382.40,382.50 H393.40 V385.20 H389.60 V393.40 H386.20 V385.20 H382.40 Z" fill="#000"/>
<text x="376.45" y="411.00" text-anchor="middle" font-size="10" letter-spacing="0.9" font-weight="bold" fill="#000" stroke="#000" stroke-width="0.4" >0,5</text>
<text x="376.45" y="424.00" text-anchor="middle" font-size="10" letter-spacing="0.9" font-weight="bold" fill="#000" stroke="#000" stroke-width="0.4" >ge</text>
<path d="M373.00,427.00 V442.00 A3.0,3.0 0 0 0 379.00,442.00 V427.00 Z" fill="#000"/>
<circle cx="370.80" cy="461.80" r="13.8" fill="#fff" stroke="#888" stroke-width="1"/>
<text x="371.30" y="467.00" text-anchor="middle" font-weight="bold" fill="#000" stroke="#000"><tspan font-size="15.5" stroke-width="1.0">D</tspan><tspan font-size="10" dx="0.3" letter-spacing="1.2" stroke-width="0.5">90</tspan></text>
<rect x="416.00" y="379.00" width="6" height="24.50" fill="#000"/>
<rect x="416.00" y="449.60" width="6" height="6.40" fill="#000"/>
<text x="419.45" y="469.00" text-anchor="middle" font-size="10" letter-spacing="0.9" font-weight="bold" fill="#000" stroke="#000" stroke-width="0.4" >0,35</text>
<text x="419.45" y="482.00" text-anchor="middle" font-size="10" letter-spacing="0.9" font-weight="bold" fill="#000" stroke="#000" stroke-width="0.4" >ro</text>
<rect x="459.00" y="379.00" width="6" height="15.50" fill="#000"/>
<path d="M459.00,394.50 L460.00,397.00 L462.00,395.30 L464.00,397.00 L465.00,394.50" stroke="#aaa" stroke-width="0.8" fill="none"/>
<text x="467.00" y="397.00" text-anchor="start" font-size="10" letter-spacing="0.9" font-weight="bold" fill="#000" stroke="#000" stroke-width="0.4" >D1</text>
<text x="453" y="414.8" font-weight="bold" stroke="#000"><tspan font-size="15.5" stroke-width="1">E</tspan><tspan font-size="10" dx="0.8" letter-spacing="1" stroke-width="0.4">87</tspan></text>
<rect x="502.00" y="379.00" width="6" height="15.50" fill="#000"/>
<path d="M502.00,394.50 L503.00,397.00 L505.00,395.30 L507.00,397.00 L508.00,394.50" stroke="#aaa" stroke-width="0.8" fill="none"/>
<text x="510.00" y="397.00" text-anchor="start" font-size="10" letter-spacing="0.9" font-weight="bold" fill="#000" stroke="#000" stroke-width="0.4" >T26/18</text>
<text x="494.2" y="414.8" font-weight="bold" stroke="#000"><tspan font-size="15.5" stroke-width="1">G</tspan><tspan font-size="10" dx="3" stroke-width="0.4">5</tspan></text>
<path d="M117.00,480.00 V512.30 Q120.00,509.10 123.00,512.30 V480.00 Z" fill="#000"/>
<path d="M116.40,514.30 Q120.00,510.30 123.60,514.30" stroke="#aaa" stroke-width="0.8" fill="none"/>
<rect x="118.90" y="513.10" width="2.2" height="5.2" rx="1.1" fill="#000"/>
<line x1="120" y1="517.5" x2="120" y2="521.5" stroke="#666" stroke-width="1"/>
<text x="125.00" y="515.00" text-anchor="start" font-size="10" letter-spacing="0.9" font-weight="bold" fill="#000" stroke="#000" stroke-width="0.4" >B11</text>
<path d="M160.00,480.00 V512.30 Q163.00,509.10 166.00,512.30 V480.00 Z" fill="#000"/>
<path d="M159.40,514.30 Q163.00,510.30 166.60,514.30" stroke="#aaa" stroke-width="0.8" fill="none"/>
<rect x="161.90" y="513.10" width="2.2" height="5.2" rx="1.1" fill="#000"/>
<line x1="163" y1="517.5" x2="163" y2="521.5" stroke="#666" stroke-width="1"/>
<text x="168.00" y="515.00" text-anchor="start" font-size="10" letter-spacing="0.9" font-weight="bold" fill="#000" stroke="#000" stroke-width="0.4" >B13</text>
<path d="M203.00,480.00 V512.30 Q206.00,509.10 209.00,512.30 V480.00 Z" fill="#000"/>
<path d="M202.40,514.30 Q206.00,510.30 209.60,514.30" stroke="#aaa" stroke-width="0.8" fill="none"/>
<rect x="204.90" y="513.10" width="2.2" height="5.2" rx="1.1" fill="#000"/>
<line x1="206" y1="517.5" x2="206" y2="521.5" stroke="#666" stroke-width="1"/>
<text x="211.00" y="515.00" text-anchor="start" font-size="10" letter-spacing="0.9" font-weight="bold" fill="#000" stroke="#000" stroke-width="0.4" >B8</text>
<path d="M245.00,484.00 V512.30 Q248.00,509.10 251.00,512.30 V484.00 Z" fill="#000"/>
<path d="M244.40,514.30 Q248.00,510.30 251.60,514.30" stroke="#aaa" stroke-width="0.8" fill="none"/>
<rect x="246.90" y="513.10" width="2.2" height="5.2" rx="1.1" fill="#000"/>
<line x1="248" y1="517.5" x2="248" y2="521.5" stroke="#666" stroke-width="1"/>
<text x="253.00" y="515.00" text-anchor="start" font-size="10" letter-spacing="0.9" font-weight="bold" fill="#000" stroke="#000" stroke-width="0.4" >B12</text>
<path d="M331.00,484.00 V512.30 Q334.00,509.10 337.00,512.30 V484.00 Z" fill="#000"/>
<path d="M330.40,514.30 Q334.00,510.30 337.60,514.30" stroke="#aaa" stroke-width="0.8" fill="none"/>
<rect x="332.90" y="513.10" width="2.2" height="5.2" rx="1.1" fill="#000"/>
<line x1="334" y1="517.5" x2="334" y2="521.5" stroke="#666" stroke-width="1"/>
<text x="339.00" y="515.00" text-anchor="start" font-size="10" letter-spacing="0.9" font-weight="bold" fill="#000" stroke="#000" stroke-width="0.4" >B10</text>
<path d="M416.00,484.00 V512.30 Q419.00,509.10 422.00,512.30 V484.00 Z" fill="#000"/>
<path d="M415.40,514.30 Q419.00,510.30 422.60,514.30" stroke="#aaa" stroke-width="0.8" fill="none"/>
<rect x="417.90" y="513.10" width="2.2" height="5.2" rx="1.1" fill="#000"/>
<line x1="419" y1="517.5" x2="419" y2="521.5" stroke="#666" stroke-width="1"/>
<text x="424.00" y="515.00" text-anchor="start" font-size="10" letter-spacing="0.9" font-weight="bold" fill="#000" stroke="#000" stroke-width="0.4" >B20</text>
<path d="M46.5,168 L46.5,184.5 L50.5,180.5 L53.5,187.5 L55.5,186.5 L52.5,179.5 L57.5,179.5 Z" fill="#fff" stroke="#000" stroke-width="1" stroke-linejoin="miter"/>
<polygon points="687.6,121.0 697.0,130.4 693.6,133.8 687.6,127.8 681.6,133.8 678.2,130.4" fill="url(#chev)" stroke="#222" stroke-width="0.9"/>
<polygon points="687.6,184.8 697.0,175.4 693.6,172.0 687.6,178.0 681.6,172.0 678.2,175.4" fill="url(#chev)" stroke="#222" stroke-width="0.9"/>
<polygon points="655.4,153.3 664.8,143.9 668.2,147.3 661.4,153.3 668.2,159.3 664.8,162.7" fill="url(#chev)" stroke="#222" stroke-width="0.9"/>
<polygon points="719.8,153.3 710.4,143.9 707.0,147.3 713.8,153.3 707.0,159.3 710.4,162.7" fill="url(#chev)" stroke="#222" stroke-width="0.9"/>
<line x1="688.9" y1="230.5" x2="695.4" y2="237" stroke="#6b5040" stroke-width="3.2" stroke-linecap="round"/>
<line x1="688.9" y1="230.5" x2="695.4" y2="237" stroke="#d0a080" stroke-width="1.6" stroke-linecap="round"/>
<circle cx="684.4" cy="226" r="5.8" fill="url(#lens)" stroke="#333" stroke-width="1.1"/>
<line x1="688.9" y1="257.1" x2="695.4" y2="263.6" stroke="#6b5040" stroke-width="3.2" stroke-linecap="round"/>
<line x1="688.9" y1="257.1" x2="695.4" y2="263.6" stroke="#d0a080" stroke-width="1.6" stroke-linecap="round"/>
<circle cx="684.4" cy="252.6" r="5.8" fill="url(#lens)" stroke="#333" stroke-width="1.1"/>
<path d="M681.4,252.6 H687.4 M684.4,249.6 V255.6" stroke="#111" stroke-width="1.3"/>
<line x1="688.9" y1="282.9" x2="695.4" y2="289.4" stroke="#6b5040" stroke-width="3.2" stroke-linecap="round"/>
<line x1="688.9" y1="282.9" x2="695.4" y2="289.4" stroke="#d0a080" stroke-width="1.6" stroke-linecap="round"/>
<circle cx="684.4" cy="278.4" r="5.8" fill="url(#lens)" stroke="#333" stroke-width="1.1"/>
<path d="M681.4,278.4 H687.4" stroke="#111" stroke-width="1.3"/>
<text x="657.5" y="431" font-size="10.5" letter-spacing="0.5" fill="#555">ws</text>
<text x="679.5" y="431" font-size="10" fill="#555">=</text>
<text x="689.5" y="431" font-size="10.5" letter-spacing="0.5" fill="#555">white</text>
<text x="657.5" y="445" font-size="10.5" letter-spacing="0.5" fill="#555">sw</text>
<text x="679.5" y="445" font-size="10" fill="#555">=</text>
<text x="689.5" y="445" font-size="10.5" letter-spacing="0.5" fill="#555">black</text>
<text x="657.5" y="459" font-size="10.5" letter-spacing="0.5" fill="#555">ro</text>
<text x="679.5" y="459" font-size="10" fill="#555">=</text>
<text x="689.5" y="459" font-size="10.5" letter-spacing="0.5" fill="#555">red</text>
<text x="657.5" y="473" font-size="10.5" letter-spacing="0.5" fill="#555">br</text>
<text x="679.5" y="473" font-size="10" fill="#555">=</text>
<text x="689.5" y="473" font-size="10.5" letter-spacing="0.5" fill="#555">brown</text>
<text x="657.5" y="487" font-size="10.5" letter-spacing="0.5" fill="#555">gn</text>
<text x="679.5" y="487" font-size="10" fill="#555">=</text>
<text x="689.5" y="487" font-size="10.5" letter-spacing="0.5" fill="#555">green</text>
<text x="657.5" y="501" font-size="10.5" letter-spacing="0.5" fill="#555">bl</text>
<text x="679.5" y="501" font-size="10" fill="#555">=</text>
<text x="689.5" y="501" font-size="10.5" letter-spacing="0.5" fill="#555">blue</text>
<text x="657.5" y="515" font-size="10.5" letter-spacing="0.5" fill="#555">gr</text>
<text x="679.5" y="515" font-size="10" fill="#555">=</text>
<text x="689.5" y="515" font-size="10.5" letter-spacing="0.5" fill="#555">grey</text>
<text x="657.5" y="529" font-size="10.5" letter-spacing="0.5" fill="#555">li</text>
<text x="679.5" y="529" font-size="10" fill="#555">=</text>
<text x="689.5" y="529" font-size="10.5" letter-spacing="0.5" fill="#555">purple</text>
<text x="657.5" y="543" font-size="10.5" letter-spacing="0.5" fill="#555">ge</text>
<text x="679.5" y="543" font-size="10" fill="#555">=</text>
<text x="689.5" y="543" font-size="10.5" letter-spacing="0.5" fill="#555">yellow</text>
<text x="657.5" y="557" font-size="10.5" letter-spacing="0.5" fill="#555">or</text>
<text x="679.5" y="557" font-size="10" fill="#555">=</text>
<text x="689.5" y="557" font-size="10.5" letter-spacing="0.5" fill="#555">orange</text>
<rect x="197.50" y="122.50" width="18.00" height="10.00" fill="#fff" stroke="#a0a0a0" stroke-width="1"/>
<text x="206.75" y="131.10" text-anchor="middle" font-size="10" letter-spacing="1.1" font-weight="bold" fill="#000" stroke="#000" stroke-width="0.4">24</text>
<rect x="281.50" y="67.50" width="19.00" height="11.00" fill="#fff" stroke="#a0a0a0" stroke-width="1"/>
<text x="291.50" y="77.10" text-anchor="middle" font-size="10" letter-spacing="1.1" font-weight="bold" fill="#000" stroke="#000" stroke-width="0.4">43</text>
<rect x="367.50" y="206.50" width="19.00" height="10.00" fill="#fff" stroke="#a0a0a0" stroke-width="1"/>
<text x="377.45" y="215.10" text-anchor="middle" font-size="10" letter-spacing="1.1" font-weight="bold" fill="#000" stroke="#000" stroke-width="0.4">24</text>
<text x="45.80" y="149.70" font-size="10" letter-spacing="1.0" font-weight="bold" fill="#000" stroke="#000" stroke-width="0.4">10b/5</text>
<text x="89.30" y="149.70" font-size="10" letter-spacing="1.0" font-weight="bold" fill="#000" stroke="#000" stroke-width="0.4">10b/4</text>
<text x="131.60" y="149.70" font-size="10" letter-spacing="1.0" font-weight="bold" fill="#000" stroke="#000" stroke-width="0.4">10b/8</text>
<text x="174.30" y="149.70" font-size="10" letter-spacing="1.0" font-weight="bold" fill="#000" stroke="#000" stroke-width="0.4">10b/10</text>
<text x="259.80" y="149.70" font-size="10" letter-spacing="1.0" font-weight="bold" fill="#000" stroke="#000" stroke-width="0.4">10c/1</text>
<text x="302.60" y="149.70" font-size="10" letter-spacing="1.0" font-weight="bold" fill="#000" stroke="#000" stroke-width="0.4">10b/2</text>
<text x="347.30" y="149.70" font-size="10" letter-spacing="1.0" font-weight="bold" fill="#000" stroke="#000" stroke-width="0.4">10a/1</text>
<rect x="537.50" y="206.50" width="18.00" height="10.00" fill="#fff" stroke="#a0a0a0" stroke-width="1"/>
<text x="547.35" y="215.10" text-anchor="middle" font-size="10" letter-spacing="1.1" font-weight="bold" fill="#000" stroke="#000" stroke-width="0.4">52</text>
<text x="90.40" y="394.10" font-size="10" letter-spacing="1.0" font-weight="bold" fill="#000" stroke="#000" stroke-width="0.4">10d/3</text>
<rect x="240.50" y="381.50" width="17.00" height="9.00" fill="#fff" stroke="#a0a0a0" stroke-width="1"/>
<text x="249.15" y="389.10" text-anchor="middle" font-size="10" letter-spacing="1.1" font-weight="bold" fill="#000" stroke="#000" stroke-width="0.4">37</text>
<rect x="281.50" y="333.50" width="19.00" height="10.00" fill="#fff" stroke="#a0a0a0" stroke-width="1"/>
<text x="291.30" y="342.80" text-anchor="middle" font-size="10" letter-spacing="1.1" font-weight="bold" fill="#000" stroke="#000" stroke-width="0.4">48</text>
<text x="304.90" y="394.10" font-size="10" letter-spacing="1.7" font-weight="bold" fill="#000" stroke="#000" stroke-width="0.4">10d/1</text>
<text x="391.30" y="394.10" font-size="10" letter-spacing="1.0" font-weight="bold" fill="#000" stroke="#000" stroke-width="0.4">10d/2</text>
<rect x="409.50" y="403.50" width="19.00" height="10.00" fill="#fff" stroke="#a0a0a0" stroke-width="1"/>
<text x="419.50" y="412.10" text-anchor="middle" font-size="10" letter-spacing="1.1" font-weight="bold" fill="#000" stroke="#000" stroke-width="0.4">19</text>
<rect x="409.50" y="438.50" width="19.00" height="11.00" fill="#fff" stroke="#a0a0a0" stroke-width="1"/>
<text x="419.45" y="448.10" text-anchor="middle" font-size="10" letter-spacing="1.1" font-weight="bold" fill="#000" stroke="#000" stroke-width="0.4">23</text>
</svg>
</body></html>
